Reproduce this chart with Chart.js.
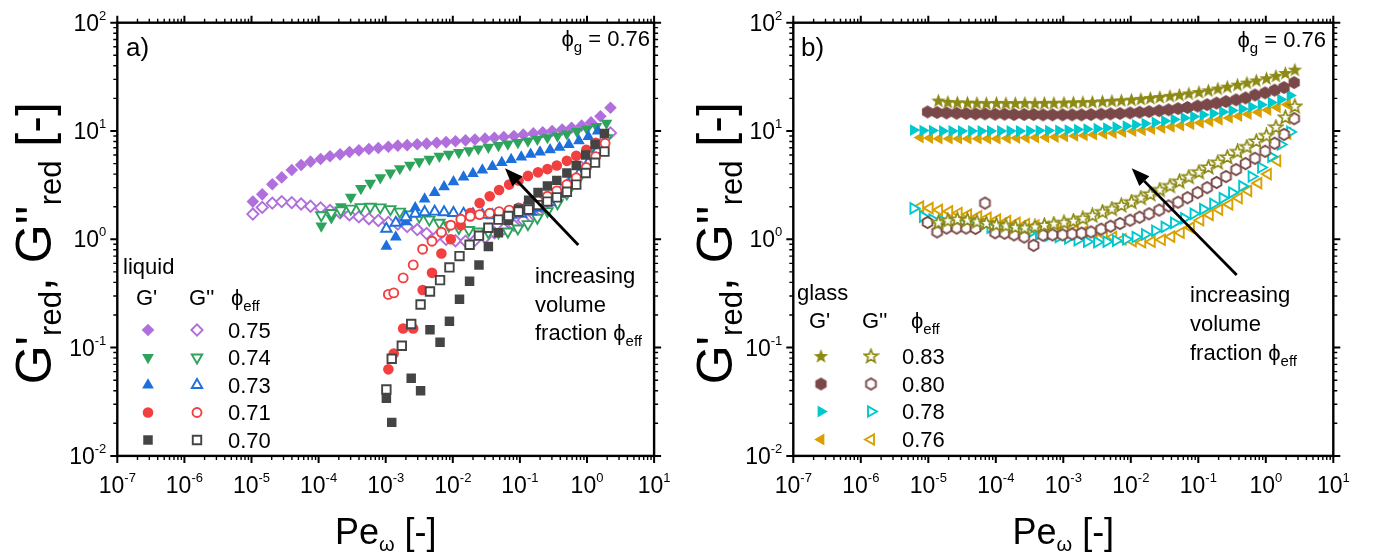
<!DOCTYPE html>
<html lang="en">
<head>
<meta charset="UTF-8">
<title>G'red, G''red vs Pe</title>
<script src="https://cdn.jsdelivr.net/npm/chart.js"></script>
<style>
  body { margin: 0; background: #fff; }
  #wrap { position: relative; width: 1375px; height: 554px; }
  canvas { position: absolute; top: 0; }
  #chartA { left: 0; }
  #chartB { left: 687px; }
</style>
</head>
<body>
<div id="wrap">
  <canvas id="chartA" width="687" height="554" style="width:687px;height:554px"></canvas>
  <canvas id="chartB" width="688" height="554" style="width:688px;height:554px"></canvas>
</div>
<script>
// ---- panel a (liquid), Pe values stored as log10 ----
const peA75 = [-4.98, -4.84, -4.69, -4.55, -4.40, -4.26, -4.12, -3.97, -3.83, -3.68, -3.54, -3.40, -3.25, -3.11, -2.96, -2.82, -2.68, -2.53, -2.39, -2.24, -2.10, -1.96, -1.81, -1.67, -1.52, -1.38, -1.24, -1.09, -0.95, -0.80, -0.66, -0.52, -0.37, -0.23, -0.08, 0.06, 0.20, 0.35];
const gpA75 = [2.23, 2.60, 3.22, 3.73, 4.36, 4.85, 5.21, 5.51, 5.84, 6.09, 6.40, 6.63, 6.82, 6.97, 7.16, 7.32, 7.40, 7.54, 7.64, 7.78, 7.90, 8.05, 8.2, 8.35, 8.5, 8.65, 8.8, 9.0, 9.25, 9.5, 9.75, 10.0, 10.3, 10.7, 11.2, 12.0, 13.7, 16.4];
const gppA75 = [1.71, 1.97, 2.16, 2.23, 2.18, 2.12, 2.02, 1.95, 1.85, 1.76, 1.68, 1.61, 1.55, 1.49, 1.43, 1.38, 1.31, 1.23, 1.13, 1.06, 1.0, 0.97, 0.96, 0.98, 1.04, 1.15, 1.25, 1.35, 1.5, 1.7, 1.95, 2.3, 2.85, 3.5, 4.6, 6.0, 7.5, 9.6];

const peA74 = [-3.96, -3.81, -3.67, -3.52, -3.37, -3.23, -3.08, -2.93, -2.79, -2.64, -2.50, -2.35, -2.20, -2.06, -1.91, -1.76, -1.62, -1.47, -1.32, -1.18, -1.03, -0.88, -0.74, -0.59, -0.44, -0.30, -0.15, 0.00, 0.14, 0.29];
const gpA74 = [1.33, 1.58, 2.0, 2.45, 2.95, 3.3, 3.7, 4.1, 4.5, 4.85, 5.2, 5.5, 5.85, 6.1, 6.35, 6.6, 6.85, 7.1, 7.35, 7.6, 7.85, 8.1, 8.4, 8.7, 9.0, 9.4, 9.9, 10.4, 11.0, 11.8];
const gppA74 = [1.67, 1.75, 1.85, 1.92, 1.98, 2.0, 1.97, 1.9, 1.8, 1.7, 1.62, 1.52, 1.42, 1.34, 1.27, 1.22, 1.18, 1.16, 1.16, 1.18, 1.26, 1.38, 1.58, 1.82, 2.15, 2.65, 3.4, 4.5, 6.2, 8.6];

const peA73 = [-2.99, -2.85, -2.70, -2.56, -2.42, -2.27, -2.13, -1.99, -1.84, -1.70, -1.56, -1.41, -1.27, -1.13, -0.98, -0.84, -0.70, -0.55, -0.41, -0.27, -0.12, 0.02, 0.16];
const gpA73 = [0.86, 1.05, 1.45, 1.95, 2.35, 2.7, 3.05, 3.4, 3.75, 4.05, 4.35, 4.7, 5.1, 5.45, 5.75, 6.1, 6.4, 6.7, 7.05, 7.5, 8.1, 8.9, 10.0];
const gppA73 = [1.25, 1.42, 1.6, 1.72, 1.78, 1.8, 1.78, 1.75, 1.72, 1.7, 1.68, 1.67, 1.67, 1.68, 1.72, 1.8, 1.95, 2.2, 2.6, 3.2, 4.0, 5.1, 6.7];

const peA71 = [-2.96, -2.88, -2.74, -2.59, -2.45, -2.31, -2.17, -2.03, -1.88, -1.74, -1.60, -1.45, -1.31, -1.16, -1.02, -0.88, -0.73, -0.59, -0.45, -0.30, -0.16, -0.01, 0.13, 0.27];
const gpA71 = [0.063, 0.088, 0.15, 0.15, 0.34, 0.49, 0.74, 1.0, 1.35, 1.75, 2.16, 2.5, 2.85, 3.2, 3.5, 3.85, 4.15, 4.45, 4.8, 5.3, 5.9, 6.7, 7.8];
const gppA71 = [0.31, 0.32, 0.44, 0.58, 0.81, 0.96, 1.16, 1.35, 1.53, 1.63, 1.69, 1.74, 1.8, 1.86, 1.95, 2.08, 2.25, 2.5, 2.8, 3.2, 3.7, 4.6, 5.8, 7.7];

const peA70 = [-2.99, -2.91, -2.76, -2.62, -2.48, -2.34, -2.19, -2.05, -1.90, -1.75, -1.61, -1.47, -1.32, -1.17, -1.02, -0.87, -0.73, -0.59, -0.45, -0.30, -0.16, -0.02, 0.12, 0.26];
const gpA70 = [0.034, 0.0204, null, 0.052, 0.040, 0.146, 0.112, 0.175, 0.28, 0.41, 0.58, 0.86, 1.15, 1.5, 1.9, 2.3, 2.7, 3.1, 3.5, 4.1, 4.8, 6.0, 7.5, 9.5];
const gppA70 = [0.041, 0.079, 0.104, 0.165, 0.25, 0.33, 0.42, 0.55, 0.70, 0.89, 1.08, 1.28, 1.52, 1.64, 1.8, 1.88, 2.07, 2.23, 2.44, 2.75, 3.2, 4.1, 5.1, 6.45];

// ---- panel b (glass) ----
const peB83 = [-4.85, -4.71, -4.57, -4.42, -4.28, -4.14, -3.99, -3.85, -3.71, -3.57, -3.42, -3.28, -3.14, -2.99, -2.85, -2.71, -2.57, -2.42, -2.28, -2.14, -1.99, -1.85, -1.71, -1.57, -1.42, -1.28, -1.14, -0.99, -0.85, -0.71, -0.57, -0.42, -0.28, -0.14, 0.01, 0.15, 0.29, 0.43];
const gpB83 = [18.9, 18.4, 18.2, 18.1, 18.0, 17.9, 18.0, 17.9, 17.9, 18.0, 17.9, 18.0, 18.0, 18.1, 18.2, 18.3, 18.4, 18.6, 18.8, 19.0, 19.3, 19.6, 20.0, 20.4, 20.9, 21.4, 22.0, 22.7, 23.5, 24.4, 25.4, 26.5, 27.7, 29.0, 30.4, 32.0, 34.0, 36.5];
const gppB83 = [1.42, 1.48, 1.52, 1.50, 1.45, 1.40, 1.36, 1.33, 1.29, 1.27, 1.30, 1.34, 1.38, 1.42, 1.47, 1.55, 1.65, 1.78, 1.9, 2.05, 2.2, 2.4, 2.6, 2.85, 3.1, 3.4, 3.75, 4.15, 4.6, 5.1, 5.7, 6.4, 7.1, 8.0, 9.0, 10.8, 13.3, 16.8];

const peB80 = [-5.01, -4.87, -4.73, -4.58, -4.44, -4.30, -4.16, -4.01, -3.87, -3.73, -3.58, -3.44, -3.30, -3.16, -3.01, -2.87, -2.73, -2.59, -2.44, -2.30, -2.16, -2.01, -1.87, -1.73, -1.58, -1.44, -1.30, -1.16, -1.01, -0.87, -0.73, -0.59, -0.44, -0.30, -0.16, -0.01, 0.13, 0.27, 0.42];
const gpB80 = [15.0, 14.8, 14.7, 14.6, 14.5, 14.4, 14.4, 14.3, 14.3, 14.2, 14.2, 14.2, 14.1, 14.1, 14.1, 14.1, 14.1, 14.2, 14.3, 14.4, 14.5, 14.7, 14.9, 15.1, 15.4, 15.7, 16.1, 16.5, 17.0, 17.5, 18.1, 18.7, 19.4, 20.2, 21.5, 22.5, 23.8, 25.2, 28.0];
const gppB80 = [1.43, 1.17, 1.27, 1.27, 1.27, 1.26, 2.16, 1.15, 1.14, 1.10, 1.05, 0.88, 1.09, 1.10, 1.10, 1.12, 1.14, 1.17, 1.24, 1.32, 1.40, 1.50, 1.60, 1.72, 1.86, 2.03, 2.2, 2.42, 2.7, 3.0, 3.35, 3.8, 4.4, 5.0, 5.6, 6.5, 7.7, 9.3, 13.0];

const peB78 = [-5.22, -5.08, -4.94, -4.79, -4.65, -4.51, -4.36, -4.22, -4.08, -3.93, -3.79, -3.65, -3.50, -3.36, -3.22, -3.07, -2.93, -2.79, -2.65, -2.50, -2.36, -2.22, -2.07, -1.93, -1.79, -1.64, -1.50, -1.36, -1.21, -1.07, -0.93, -0.78, -0.64, -0.50, -0.35, -0.21, -0.07, 0.08, 0.22, 0.36];
const gpB78 = [10.2, 10.1, 10.1, 10.0, 10.0, 10.0, 10.0, 10.0, 10.0, 10.0, 10.0, 10.0, 10.05, 10.1, 10.1, 10.15, 10.2, 10.3, 10.4, 10.5, 10.65, 10.85, 11.1, 11.4, 11.7, 12.0, 12.4, 12.8, 13.2, 13.6, 14.1, 14.5, 15.0, 15.5, 16.0, 16.7, 17.5, 18.3, 19.5, 21.3];
const gppB78 = [1.93, 1.62, 1.52, 1.48, 1.44, 1.40, 1.36, 1.32, 1.28, 1.24, 1.20, 1.17, 1.14, 1.11, 1.08, 1.05, 1.02, 0.98, 0.95, 0.94, 0.95, 0.97, 1.0, 1.05, 1.11, 1.2, 1.3, 1.42, 1.56, 1.72, 1.9, 2.12, 2.4, 2.7, 3.1, 3.8, 4.6, 5.8, 7.5, 9.8];

const peB76 = [-5.12, -4.98, -4.84, -4.69, -4.55, -4.41, -4.26, -4.12, -3.98, -3.83, -3.69, -3.55, -3.41, -3.26, -3.12, -2.98, -2.83, -2.69, -2.55, -2.40, -2.26, -2.12, -1.97, -1.83, -1.69, -1.54, -1.40, -1.26, -1.11, -0.97, -0.83, -0.69, -0.54, -0.40, -0.26, -0.11, 0.03, 0.17, 0.32];
const gpB76 = [8.7, 8.6, 8.5, 8.5, 8.5, 8.5, 8.5, 8.5, 8.5, 8.55, 8.6, 8.65, 8.7, 8.75, 8.8, 8.9, 9.0, 9.1, 9.25, 9.4, 9.55, 9.75, 9.95, 10.15, 10.4, 10.65, 10.9, 11.2, 11.5, 11.9, 12.3, 12.7, 13.2, 13.7, 14.3, 14.9, 15.6, 16.5, 17.6];
const gppB76 = [2.0, 1.94, 1.87, 1.81, 1.75, 1.69, 1.63, 1.58, 1.52, 1.47, 1.42, 1.38, 1.34, 1.30, 1.27, 1.24, 1.21, 1.18, 1.14, 1.10, 1.05, 1.0, 0.96, 0.94, 0.95, 0.99, 1.06, 1.15, 1.28, 1.5, 1.68, 1.88, 2.1, 2.4, 2.8, 3.3, 4.0, 5.3, 9.5];

// ---- ticks / legend text ----
const xTickExp = [-7, -6, -5, -4, -3, -2, -1, 0, 1];
const yTickExp = [-2, -1, 0, 1, 2];
const phiA = ['0.75', '0.74', '0.73', '0.71', '0.70'];
const phiB = ['0.83', '0.80', '0.78', '0.76'];

const FONT = '"Liberation Sans", Arial, "DejaVu Sans", sans-serif';
const PURPLE = '#b16fdd', GREEN = '#2ea35c', BLUE = '#1d6fdc', RED = '#f23f3f', GRAY = '#444444';
const OLIVE = '#8c8a14', BROWN = '#7a4848', CYAN = '#00c8cf', GOLD = '#d9a000';

// star and hexagon markers (not built into Chart.js)
function markerCanvas(draw) {
  const c = document.createElement('canvas');
  c.width = 17; c.height = 17;
  draw(c.getContext('2d'), 8.5, 8.5);
  return c;
}
function starPath(g, cx, cy, ro, ri) {
  g.beginPath();
  for (let i = 0; i < 10; i++) {
    const r = i % 2 ? ri : ro;
    const a = -Math.PI / 2 + i * Math.PI / 5;
    g.lineTo(cx + r * Math.cos(a), cy + r * Math.sin(a));
  }
  g.closePath();
}
function hexPath(g, cx, cy, r) {
  g.beginPath();
  for (let i = 0; i < 6; i++) {
    const a = -Math.PI / 2 + i * Math.PI / 3;
    g.lineTo(cx + r * Math.cos(a), cy + r * Math.sin(a));
  }
  g.closePath();
}
const starFill = markerCanvas((g, x, y) => { starPath(g, x, y, 7.6, 3.2); g.fillStyle = OLIVE; g.fill(); });
const starOpen = markerCanvas((g, x, y) => { starPath(g, x, y, 7.0, 3.0); g.fillStyle = '#fff'; g.fill(); g.lineWidth = 1.7; g.strokeStyle = OLIVE; g.stroke(); });
const hexFill = markerCanvas((g, x, y) => { hexPath(g, x, y, 6.5); g.fillStyle = BROWN; g.fill(); });
const hexOpen = markerCanvas((g, x, y) => { hexPath(g, x, y, 5.6); g.fillStyle = '#fff'; g.fill(); g.lineWidth = 1.9; g.strokeStyle = BROWN; g.stroke(); });

function pts(xs, ys) {
  const out = [];
  ys.forEach((v, i) => { if (v != null) out.push({ x: Math.pow(10, xs[i]), y: v }); });
  return out;
}
function series(label, xs, ys, color, style, rot, radius, open, order) {
  return {
    label: label,
    data: pts(xs, ys),
    order: order,
    showLine: false,
    pointStyle: style,
    pointRotation: rot,
    pointRadius: radius,
    pointBackgroundColor: open ? '#ffffff' : color,
    pointBorderColor: color,
    pointBorderWidth: open ? 1.9 : 0
  };
}

// marker styles shared by data and legend
const stylesA = [
  { c: PURPLE, s: 'rectRot', r: 0, fr: 6.3, or: 5.6 },
  { c: GREEN, s: 'triangle', r: 180, fr: 6.8, or: 6.0 },
  { c: BLUE, s: 'triangle', r: 0, fr: 6.8, or: 6.0 },
  { c: RED, s: 'circle', r: 0, fr: 5.3, or: 4.5 },
  { c: GRAY, s: 'rect', r: 0, fr: 6.7, or: 6.0 }
];
const stylesB = [
  { c: OLIVE, s: starFill, so: starOpen, r: 0, fr: 7, or: 7 },
  { c: BROWN, s: hexFill, so: hexOpen, r: 0, fr: 7, or: 7 },
  { c: CYAN, s: 'triangle', r: 90, fr: 6.8, or: 6.0 },
  { c: GOLD, s: 'triangle', r: -90, fr: 6.8, or: 6.0 }
];

const dataA = [[peA75, gpA75, gppA75], [peA74, gpA74, gppA74], [peA73, gpA73, gppA73], [peA71, gpA71, gppA71], [peA70, gpA70, gppA70]];
const dataB = [[peB83, gpB83, gppB83], [peB80, gpB80, gppB80], [peB78, gpB78, gppB78], [peB76, gpB76, gppB76]];

function buildSets(data, styles, names, topFirst) {
  const sets = [];
  data.forEach((d, i) => {
    const st = styles[i];
    // later samples drawn on top in panel a, earlier ones on top in panel b
    const base = topFirst ? i * 2 : (data.length - 1 - i) * 2;
    sets.push(series("G' " + names[i], d[0], d[1], st.c, st.s, st.r, st.fr, false, base + 1));
    sets.push(series("G'' " + names[i], d[0], d[2], st.c, st.so || st.s, st.r, st.or, !st.so, base));
  });
  return sets;
}

// ---- drawing helpers ----
function textRuns(ctx, x, y, parts, align) {
  let w = 0;
  parts.forEach(p => { ctx.font = p[1] + 'px ' + FONT; w += ctx.measureText(p[0]).width; });
  let cx = align === 'center' ? x - w / 2 : (align === 'right' ? x - w : x);
  parts.forEach(p => {
    ctx.font = p[1] + 'px ' + FONT;
    ctx.fillText(p[0], cx, y + (p[2] || 0));
    cx += ctx.measureText(p[0]).width;
  });
}
function arrow(ctx, x1, y1, x2, y2) {
  const ang = Math.atan2(y2 - y1, x2 - x1);
  const hl = 18, hw = 7;
  const bx = x2 - hl * Math.cos(ang), by = y2 - hl * Math.sin(ang);
  ctx.lineWidth = 2.8;
  ctx.beginPath(); ctx.moveTo(x1, y1); ctx.lineTo(bx, by); ctx.stroke();
  ctx.beginPath();
  ctx.moveTo(x2, y2);
  ctx.lineTo(bx + hw * Math.sin(ang), by - hw * Math.cos(ang));
  ctx.lineTo(bx - hw * Math.sin(ang), by + hw * Math.cos(ang));
  ctx.closePath(); ctx.fill();
}
function legendMarker(ctx, st, open, x, y) {
  ctx.save();
  const style = open ? (st.so || st.s) : st.s;
  const hollow = open && !st.so;
  ctx.fillStyle = hollow ? '#fff' : st.c;
  ctx.strokeStyle = st.c;
  ctx.lineWidth = 1.9;
  Chart.helpers.drawPoint(ctx, {
    pointStyle: style, rotation: st.r, radius: open ? st.or : st.fr,
    borderWidth: hollow ? 1.9 : 0
  }, x, y);
  ctx.restore();
}

function panelPlugin(cfg) {
  return {
    id: 'panel' + cfg.tag,
    afterDraw(chart) {
      const ctx = chart.ctx, a = chart.chartArea, xs = chart.scales.x, ys = chart.scales.y;
      const o = cfg.off;
      ctx.save();
      ctx.strokeStyle = '#000'; ctx.fillStyle = '#000';
      ctx.textBaseline = 'alphabetic'; ctx.textAlign = 'left';

      // ticks, all outward
      xTickExp.forEach(e => {
        for (let m = 1; m <= 9; m++) {
          if (e === 1 && m > 1) break;
          const px = xs.getPixelForValue(m * Math.pow(10, e));
          const len = m === 1 ? 7 : 4;
          ctx.lineWidth = m === 1 ? 2 : 1.4;
          ctx.beginPath();
          ctx.moveTo(px, a.bottom); ctx.lineTo(px, a.bottom + len);
          ctx.moveTo(px, a.top); ctx.lineTo(px, a.top - len);
          ctx.stroke();
        }
      });
      yTickExp.forEach(e => {
        for (let m = 1; m <= 9; m++) {
          if (e === 2 && m > 1) break;
          const py = ys.getPixelForValue(m * Math.pow(10, e));
          const len = m === 1 ? 7 : 4;
          ctx.lineWidth = m === 1 ? 2 : 1.4;
          ctx.beginPath();
          ctx.moveTo(a.left, py); ctx.lineTo(a.left - len, py);
          ctx.moveTo(a.right, py); ctx.lineTo(a.right + len, py);
          ctx.stroke();
        }
      });
      ctx.lineWidth = 2.4;
      ctx.strokeRect(a.left, a.top, a.right - a.left, a.bottom - a.top);

      // tick labels
      xTickExp.forEach(e => {
        const px = xs.getPixelForValue(Math.pow(10, e));
        textRuns(ctx, px, 493, [['10', 23], [String(e), 13, -11]], 'center');
      });
      yTickExp.forEach(e => {
        const py = ys.getPixelForValue(Math.pow(10, e));
        textRuns(ctx, a.left - 11, py + 8, [['10', 23], [String(e), 13, -11]], 'right');
      });

      // axis titles
      textRuns(ctx, (a.left + a.right) / 2, 544, [['Pe', 36], ['\u03c9', 20, 7], [' [-]', 36]], 'center');
      ctx.save();
      ctx.translate(cfg.ytx - o, (a.top + a.bottom) / 2 + 4);
      ctx.rotate(-Math.PI / 2);
      textRuns(ctx, 0, 0, [["G'", 50], ['red', 31, 10], [", G''", 50], ['red', 31, 10], [' [-]', 50]], 'center');
      ctx.restore();

      // panel label and phi_g
      textRuns(ctx, cfg.lab[0] - o, cfg.lab[1], [[cfg.tag + ')', 26]], 'left');
      textRuns(ctx, cfg.phig[0] - o, cfg.phig[1], [['\u03d5', 22], ['g', 15, 6], [' = 0.76', 22]], 'right');

      // legend block
      const L = cfg.leg;
      textRuns(ctx, L.title[0] - o, L.title[1], [[L.name, 22]], 'left');
      textRuns(ctx, L.gp - o, L.head, [["G'", 22]], 'left');
      textRuns(ctx, L.gpp - o, L.head, [["G''", 22]], 'left');
      textRuns(ctx, L.phi - o, L.head, [['\u03d5', 22], ['eff', 15, 6]], 'left');
      cfg.names.forEach((n, i) => {
        textRuns(ctx, L.num - o, L.rows[i] + 7.5, [[n, 22]], 'left');
        legendMarker(ctx, cfg.styles[i], false, L.mk1 - o, L.rows[i]);
        legendMarker(ctx, cfg.styles[i], true, L.mk2 - o, L.rows[i]);
      });

      // annotation
      const T = cfg.note;
      textRuns(ctx, T.x - o, T.y[0], [['increasing', 22]], 'left');
      textRuns(ctx, T.x - o, T.y[1], [['volume', 22]], 'left');
      textRuns(ctx, T.x - o, T.y[2], [['fraction ', 22], ['\u03d5', 22], ['eff', 15, 6]], 'left');
      arrow(ctx, T.arrow[0] - o, T.arrow[1], T.arrow[2] - o, T.arrow[3]);
      ctx.restore();
    }
  };
}

function makeChart(id, sets, pad, cfg) {
  return new Chart(document.getElementById(id), {
    type: 'scatter',
    data: { datasets: sets },
    options: {
      responsive: false,
      animation: false,
      layout: { padding: pad },
      plugins: { legend: { display: false }, tooltip: { enabled: false } },
      scales: {
        x: { type: 'logarithmic', min: 1e-7, max: 10, display: false },
        y: { type: 'logarithmic', min: 0.01, max: 100, display: false }
      }
    },
    plugins: [panelPlugin(cfg)]
  });
}

makeChart('chartA', buildSets(dataA, stylesA, phiA, false),
  { left: 117.3, right: 32.9, top: 22.7, bottom: 98.1 },
  {
    tag: 'a', off: 0, ytx: 51, lab: [126, 56], phig: [650, 46],
    names: phiA, styles: stylesA,
    leg: { name: 'liquid', title: [123, 274], head: 305, gp: 136, gpp: 189, phi: 231,
           num: 228, mk1: 148, mk2: 197, rows: [330, 357.5, 385, 412.5, 440] },
    note: { x: 535, y: [283, 311.5, 340], arrow: [578.3, 245, 505, 168.3] }
  });

makeChart('chartB', buildSets(dataB, stylesB, phiB, true),
  { left: 106.3, right: 41.7, top: 22.7, bottom: 98.1 },
  {
    tag: 'b', off: 687, ytx: 732, lab: [801, 56], phig: [1326, 47],
    names: phiB, styles: stylesB,
    leg: { name: 'glass', title: [797, 300], head: 328, gp: 809, gpp: 862, phi: 911,
           num: 902, mk1: 821, mk2: 871, rows: [356.5, 384, 411.5, 439.5] },
    note: { x: 1190, y: [302, 331, 360], arrow: [1236.7, 275, 1131.7, 168.3] }
  });
</script>
</body>
</html>
